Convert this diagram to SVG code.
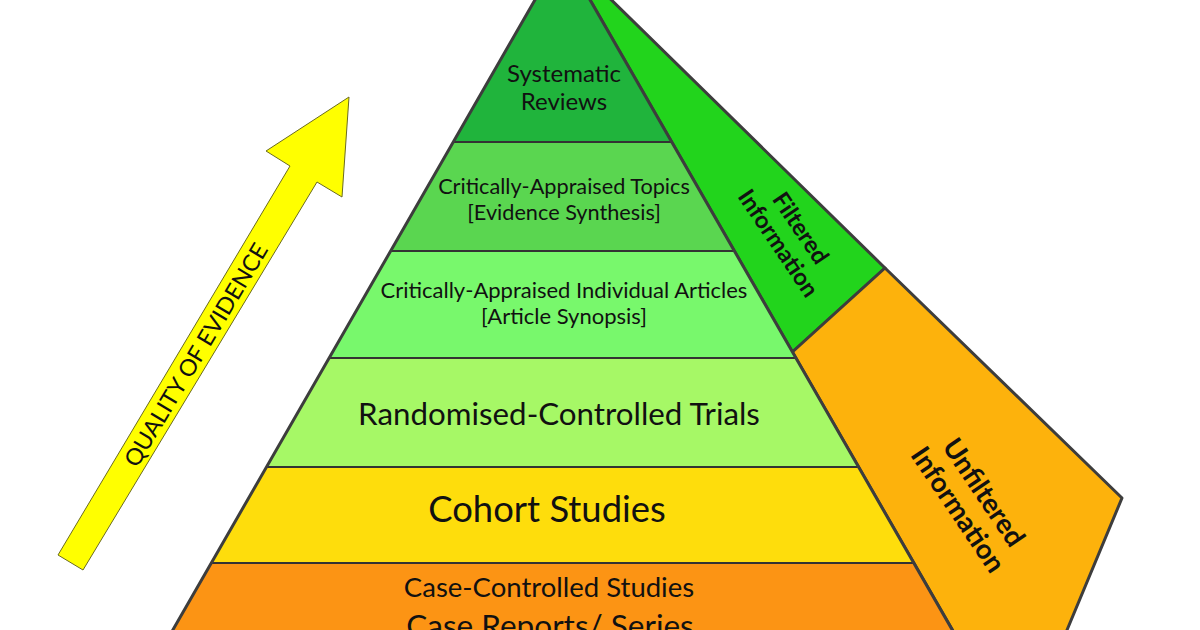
<svg xmlns="http://www.w3.org/2000/svg" width="1200" height="630" viewBox="0 0 1200 630">
<style>
.edge{stroke:#3d3d3d;stroke-width:3;stroke-linejoin:round}
.sep{stroke:#333;stroke-width:2}
.t{font-family:Lato,"Open Sans","Liberation Sans",sans-serif;fill:#111;text-anchor:middle}
.side{font-family:Lato,"Open Sans","Liberation Sans",sans-serif;fill:#111;text-anchor:middle;font-weight:bold}
</style>
<rect width="1200" height="630" fill="#fff"/>
<g id="arrow">
<polygon points="58,555 290,166 266,151 349,97 342,197 317,182 83,570" fill="#ffff00" stroke="#6b6b20" stroke-width="1"/>
<text class="t" transform="translate(196,355) rotate(-59)" y="8" font-size="23" textLength="256" lengthAdjust="spacingAndGlyphs">QUALITY OF EVIDENCE</text>
</g>
<g id="filtered">
<polygon class="edge" points="562.5,-48 885,268 792.4,352" fill="#22d41c"/>
<text class="side" transform="translate(789,236) rotate(56)" font-size="23.5"><tspan x="0" y="-6">Filtered</tspan><tspan x="0" y="21">Information</tspan></text>
</g>
<g id="unfiltered">
<polygon class="edge" points="792.4,352 885,268 1122,498 1067,630 1060,650 964,650" fill="#fdb20c"/>
<text class="side" transform="translate(971,501) rotate(56)" font-size="27.5"><tspan x="0" y="-6">Unfiltered</tspan><tspan x="0" y="25">Information</tspan></text>
</g>
<g id="systematic-reviews">
<polygon points="562.5,-48 453.35,142 671.65,142" fill="#20b43c"/>
<text class="t" font-size="24"><tspan x="564" y="82">Systematic</tspan><tspan x="564" y="110">Reviews</tspan></text>
</g>
<g id="critically-appraised-topics">
<polygon points="453.35,142 671.65,142 734.3,251 390.7,251" fill="#5ad650"/>
<text class="t" font-size="21.7"><tspan x="564" y="194">Critically-Appraised Topics</tspan><tspan x="564" y="220">[Evidence Synthesis]</tspan></text>
</g>
<g id="critically-appraised-articles">
<polygon points="390.7,251 734.3,251 795.9,358 329.1,358" fill="#78f86c"/>
<text class="t" font-size="22"><tspan x="564" y="298">Critically-Appraised Individual Articles</tspan><tspan x="564" y="324">[Article Synopsis]</tspan></text>
</g>
<g id="rct">
<polygon points="329.1,358 795.9,358 858.5,467 266.5,467" fill="#a6f866"/>
<text class="t" font-size="31.3" x="559" y="425">Randomised-Controlled Trials</text>
</g>
<g id="cohort">
<polygon points="266.5,467 858.5,467 913.7,563 211.3,563" fill="#fedd0c"/>
<text class="t" font-size="36.4" x="547" y="522">Cohort Studies</text>
</g>
<g id="case">
<polygon points="211.3,563 913.7,563 963.8,650 161.3,650" fill="#fc9414"/>
<text class="t" font-size="27.5" x="549" y="597">Case-Controlled Studies</text>
<text class="t" font-size="31.5" x="550" y="637">Case Reports/ Series</text>
</g>
<g id="connectors">
<line class="sep" x1="453.35" y1="142" x2="671.65" y2="142"/>
<line class="sep" x1="390.7" y1="251" x2="734.3" y2="251"/>
<line class="sep" x1="329.1" y1="358" x2="795.9" y2="358"/>
<line class="sep" x1="266.5" y1="467" x2="858.5" y2="467"/>
<line class="sep" x1="211.3" y1="563" x2="913.7" y2="563"/>
<polyline class="edge" fill="none" points="161.3,650 562.5,-48 963.8,650"/>
</g>
</svg>
